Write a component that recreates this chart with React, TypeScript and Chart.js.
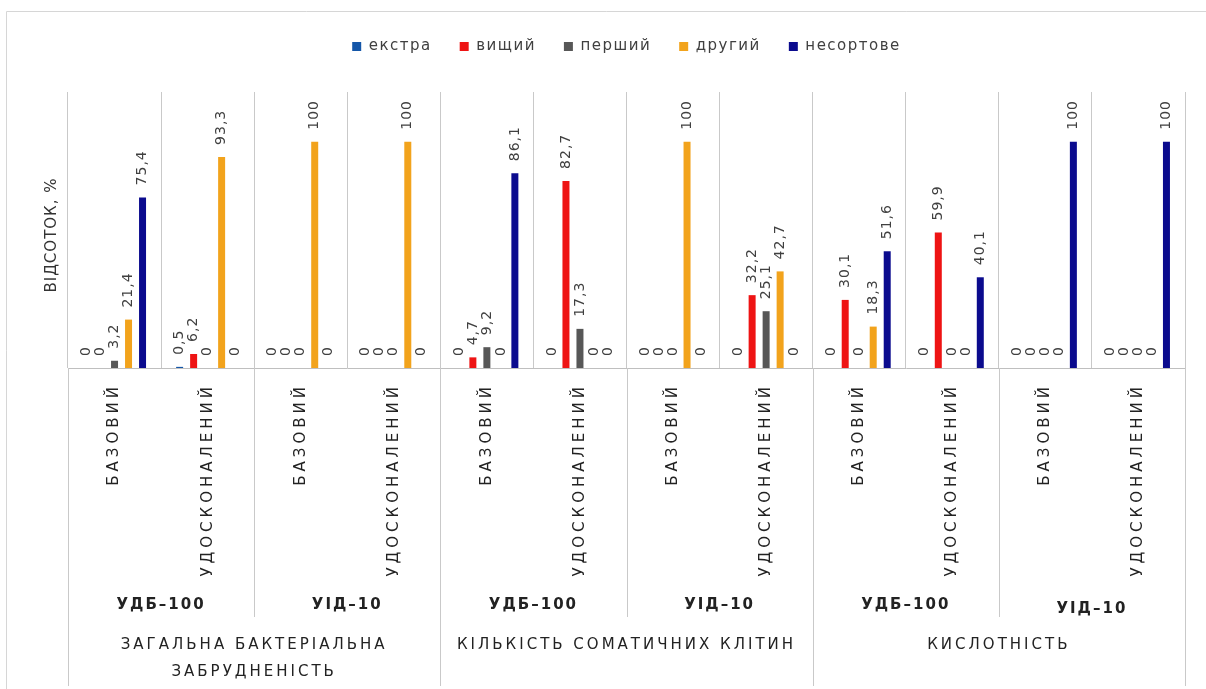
import React, { useEffect, useRef } from "react";
import { Chart, registerables } from "chart.js";

Chart.register(...registerables);

// Grade shares (%) for each method, per quality indicator
const seriesNames = ["екстра", "вищий", "перший", "другий", "несортове"];
const seriesColors = ["#1456a8", "#ee1414", "#575757", "#f2a31c", "#0b0b8e"];

const categories = [
  "БАЗОВИЙ", "УДОСКОНАЛЕНИЙ", "БАЗОВИЙ", "УДОСКОНАЛЕНИЙ",
  "БАЗОВИЙ", "УДОСКОНАЛЕНИЙ", "БАЗОВИЙ", "УДОСКОНАЛЕНИЙ",
  "БАЗОВИЙ", "УДОСКОНАЛЕНИЙ", "БАЗОВИЙ", "УДОСКОНАЛЕНИЙ",
];
const devices = ["УДБ–100", "УІД–10", "УДБ–100", "УІД–10", "УДБ–100", "УІД–10"];
const indicators = [
  ["ЗАГАЛЬНА БАКТЕРІАЛЬНА", "ЗАБРУДНЕНІСТЬ"],
  ["КІЛЬКІСТЬ СОМАТИЧНИХ КЛІТИН"],
  ["КИСЛОТНІСТЬ"],
];

const extra = [0, 0.5, 0, 0, 0, 0, 0, 0, 0, 0, 0, 0];
const highest = [0, 6.2, 0, 0, 4.7, 82.7, 0, 32.2, 30.1, 59.9, 0, 0];
const first = [3.2, 0, 0, 0, 9.2, 17.3, 0, 25.1, 0, 0, 0, 0];
const second = [21.4, 93.3, 100, 100, 0, 0, 100, 42.7, 18.3, 0, 0, 0];
const offGrade = [75.4, 0, 0, 0, 86.1, 0, 0, 0, 51.6, 40.1, 100, 100];

const seriesValues = [extra, highest, first, second, offGrade];

const yTitle = "ВІДСОТОК, %";

const FONT = '"DejaVu Sans", sans-serif';
const LINE = "#c9c9c9";

const decorPlugin = {
  id: "decor",
  beforeInit(chart: any) {
    // extra room between the legend and the plot
    const legend = chart.legend;
    if (legend) {
      const fit = legend.fit;
      legend.fit = function () {
        fit.call(this);
        this.height += 28;
      };
    }
  },
  beforeLayout(chart: any) {
    chart.ctx.letterSpacing = "1.5px";
  },
  beforeDraw(chart: any) {
    const ctx = chart.ctx;
    ctx.letterSpacing = "1.5px";
    ctx.save();
    ctx.fillStyle = "#ffffff";
    ctx.fillRect(0, 0, chart.width, chart.height);
    ctx.restore();
  },
  afterDatasetsDraw(chart: any) {
    const ctx = chart.ctx;
    ctx.save();
    ctx.font = `14px ${FONT}`;
    ctx.letterSpacing = "1px";
    ctx.fillStyle = "#404040";
    ctx.textAlign = "left";
    ctx.textBaseline = "middle";
    chart.data.datasets.forEach((ds: any, di: number) => {
      const meta = chart.getDatasetMeta(di);
      meta.data.forEach((bar: any, i: number) => {
        const v = ds.data[i] as number;
        const text = String(v).replace(".", ",");
        const { x, y } = bar.getProps(["x", "y"], true);
        ctx.save();
        ctx.translate(x, y - 12);
        ctx.rotate(-Math.PI / 2);
        ctx.fillText(text, 0, 0);
        ctx.restore();
      });
    });
    ctx.restore();
  },
  afterDraw(chart: any) {
    const ctx = chart.ctx;
    const xs = chart.scales.x;
    const area = chart.chartArea;
    const px = (i: number) => xs.getPixelForValue(i);
    const edge = (i: number) => {
      if (i <= 0) return area.left;
      if (i >= categories.length) return area.right;
      return (px(i - 1) + px(i)) / 2;
    };

    ctx.save();
    // separators below the axis
    ctx.strokeStyle = LINE;
    ctx.lineWidth = 1;
    const vline = (x: number, y1: number, y2: number) => {
      const xx = Math.round(x) + 0.5;
      ctx.beginPath();
      ctx.moveTo(xx, y1);
      ctx.lineTo(xx, y2);
      ctx.stroke();
    };
    [2, 6, 10].forEach((i) => vline(edge(i), area.bottom, 617));
    [0, 4, 8, 12].forEach((i) => vline(edge(i), area.bottom, 686));

    // outer frame
    ctx.strokeStyle = "#d6d6d6";
    ctx.beginPath();
    ctx.moveTo(6.5, chart.height);
    ctx.lineTo(6.5, 11.5);
    ctx.lineTo(chart.width, 11.5);
    ctx.stroke();

    // category labels (rotated)
    ctx.fillStyle = "#222222";
    ctx.font = `15px ${FONT}`;
    ctx.letterSpacing = "4px";
    ctx.textAlign = "right";
    ctx.textBaseline = "middle";
    categories.forEach((c, i) => {
      ctx.save();
      ctx.translate(px(i), area.bottom + 15);
      ctx.rotate(-Math.PI / 2);
      ctx.fillText(c, 0, 0);
      ctx.restore();
    });

    // device labels
    ctx.textAlign = "center";
    ctx.font = `bold 15px ${FONT}`;
    ctx.letterSpacing = "2px";
    devices.forEach((d, k) => {
      const cx = (px(2 * k) + px(2 * k + 1)) / 2;
      ctx.fillText(d, cx, k === 5 ? 609 : 605);
    });

    // indicator labels
    ctx.font = `15px ${FONT}`;
    ctx.letterSpacing = "3px";
    indicators.forEach((lines, g) => {
      const cx = (edge(4 * g) + edge(4 * g + 4)) / 2;
      lines.forEach((t, li) => ctx.fillText(t, cx, 645 + li * 27));
    });

    // y axis title
    ctx.font = `15px ${FONT}`;
    ctx.letterSpacing = "1px";
    ctx.fillStyle = "#333333";
    ctx.save();
    ctx.translate(52, 235);
    ctx.rotate(-Math.PI / 2);
    ctx.textAlign = "center";
    ctx.fillText(yTitle, 0, 0);
    ctx.restore();

    ctx.restore();
  },
};

export default function App() {
  const ref = useRef<HTMLCanvasElement | null>(null);

  useEffect(() => {
    if (!ref.current) return;
    const chart = new Chart(ref.current, {
      type: "bar",
      data: {
        labels: categories,
        datasets: seriesNames.map((name, k) => ({
          label: name,
          data: seriesValues[k],
          backgroundColor: seriesColors[k],
          borderWidth: 0,
          barPercentage: 0.5,
          categoryPercentage: 0.752,
        })),
      },
      options: {
        responsive: false,
        animation: false,
        devicePixelRatio: 1,
        layout: { padding: { top: 11, left: 68, right: 21, bottom: 321 } },
        plugins: {
          tooltip: { enabled: false },
          legend: {
            position: "top",
            labels: {
              boxWidth: 9,
              boxHeight: 9,
              padding: 28,
              color: "#404040",
              font: { family: FONT, size: 15 },
            },
          },
        },
        scales: {
          x: {
            ticks: { display: false },
            grid: { offset: true, color: LINE, drawTicks: false },
            border: { display: true, color: "#bfbfbf" },
          },
          y: {
            display: false,
            min: 0,
            max: 122,
          },
        },
      },
      plugins: [decorPlugin],
    });
    return () => chart.destroy();
  }, []);

  return (
    <div style={{ position: "fixed", left: 0, top: 0, width: 1206, height: 689, background: "#fff" }}>
      <canvas ref={ref} width={1206} height={689} style={{ width: 1206, height: 689, display: "block" }} />
    </div>
  );
}
